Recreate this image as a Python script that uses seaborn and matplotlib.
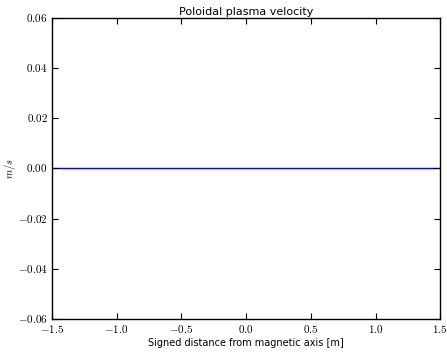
import matplotlib
matplotlib.use("Agg")
import matplotlib.pyplot as plt
import matplotlib.ticker as mticker
import seaborn as sns
import pandas as pd

# Poloidal velocity profile along the midplane
distance = [-1.5, 1.5]
velocity = [0.0, 0.0]

plt.style.use("classic")
plt.rcParams["mathtext.fontset"] = "cm"
plt.rcParams["font.family"] = ["DejaVu Sans"]

df = pd.DataFrame({"distance": distance, "velocity": velocity})

fig = plt.figure(figsize=(4.47, 3.52), dpi=100, facecolor="white")
ax = fig.add_axes([0.116, 0.094, 0.869, 0.855])
sns.lineplot(data=df, x="distance", y="velocity", color="blue", linewidth=1.0, ax=ax)

ax.set_xlim(-1.5, 1.5)
ax.set_ylim(-0.06, 0.06)
ax.xaxis.set_major_locator(mticker.MultipleLocator(0.5))
ax.yaxis.set_major_locator(mticker.MultipleLocator(0.02))
ax.xaxis.set_major_formatter(mticker.FuncFormatter(lambda v, p: r"$%.1f$" % v))
ax.yaxis.set_major_formatter(mticker.FuncFormatter(lambda v, p: r"$%.2f$" % v))
ax.tick_params(direction="in", length=4, width=0.8, labelsize=8, top=True, right=True, pad=3)
for s in ax.spines.values():
    s.set_linewidth(1.0)

ax.set_title("Poloidal plasma velocity", fontsize=8, pad=2)
ax.set_xlabel("Signed distance from magnetic axis [m]", fontsize=7, labelpad=2)
ax.set_ylabel(r"$m/s$", fontsize=7.5)
ax.yaxis.set_label_coords(-0.088, 0.5)

fig.savefig("out.png", dpi=100, facecolor="white")
